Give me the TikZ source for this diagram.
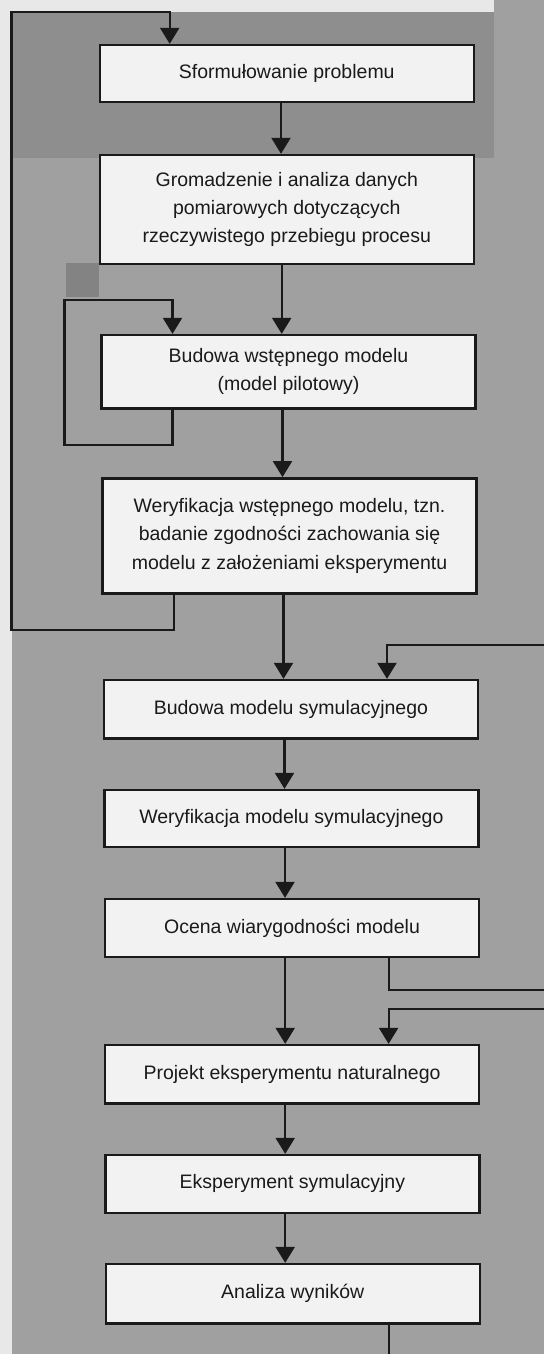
\documentclass[tikz,border=0pt]{standalone}
\usepackage{fontspec}
\setmainfont{Liberation Sans}
\usetikzlibrary{arrows.meta}
\definecolor{paper}{HTML}{E8E8E8}
\definecolor{panel}{HTML}{A0A0A0}
\definecolor{paneltop}{HTML}{8E8E8E}
\definecolor{patch}{HTML}{838383}
\definecolor{boxfill}{HTML}{F2F2F2}
\definecolor{ink}{HTML}{1A1A1A}

\begin{document}
\begin{tikzpicture}[x=1pt,y=-1pt,
  stepbox/.style={draw=ink, line width=2.4pt, fill=boxfill, text=ink,
    align=center, inner sep=0pt, minimum width=374pt,
    font=\fontsize{19.5}{28.3}\selectfont},
  plainline/.style={draw=ink, line width=2.2pt},
  arrowline/.style={plainline, -{Triangle[width=19pt,length=16pt]}}]

% page and shaded panels
\useasboundingbox (0,0) rectangle (544,1354);
\fill[paper] (0,0) rectangle (544,1354);
\fill[panel] (11.5,158) rectangle (544,1354);
\fill[panel] (494,0) rectangle (544,158);
\fill[paneltop] (11.5,12) rectangle (494,158);
\fill[patch] (66,263) rectangle (99,297);

% process steps
\node[stepbox, minimum height=56.7pt] (b1) at (286.8,73.4) {Sformułowanie problemu};
\node[stepbox, minimum height=109pt] (b2) at (286.8,209.5)
  {Gromadzenie i analiza danych\\pomiarowych dotyczących\\rzeczywistego przebiegu procesu};
\node[stepbox, minimum height=73.3pt] (b3) at (288.5,371.7)
  {Budowa wstępnego modelu\\(model pilotowy)};
\node[stepbox, minimum height=115pt] (b4) at (289.5,535.8)
  {Weryfikacja wstępnego modelu, tzn.\\badanie zgodności zachowania się\\modelu z założeniami eksperymentu};
\node[stepbox, minimum height=58.3pt] (b5) at (290.9,709.2) {Budowa modelu symulacyjnego};
\node[stepbox, minimum height=56.7pt] (b6) at (291.4,818.4) {Weryfikacja modelu symulacyjnego};
\node[stepbox, minimum height=57.7pt] (b7) at (292,927.9) {Ocena wiarygodności modelu};
\node[stepbox, minimum height=58.3pt] (b8) at (292,1074.2) {Projekt eksperymentu naturalnego};
\node[stepbox, minimum height=57.7pt] (b9) at (292.4,1183.9) {Eksperyment symulacyjny};
\node[stepbox, minimum height=59.3pt] (b10) at (292.7,1293.7) {Analiza wyników};

% main sequence
\draw[arrowline] (b1.south -| 281,0) -- (b2.north -| 281,0);
\draw[arrowline] (b2.south -| 281.7,0) -- (b3.north -| 281.7,0);
\draw[arrowline] (b3.south -| 282.5,0) -- (b4.north -| 282.5,0);
\draw[arrowline] (b4.south -| 283.5,0) -- (b5.north -| 283.5,0);
\draw[arrowline] (b5.south -| 284.5,0) -- (b6.north -| 284.5,0);
\draw[arrowline] (b6.south -| 285,0) -- (b7.north -| 285,0);
\draw[arrowline] (b7.south -| 285.2,0) -- (b8.north -| 285.2,0);
\draw[arrowline] (b8.south -| 285.2,0) -- (b9.north -| 285.2,0);
\draw[arrowline] (b9.south -| 285.2,0) -- (b10.north -| 285.2,0);

% loop around the pilot model
\coordinate (i1) at (64.5,445);
\coordinate (i2) at (64.5,300);
\draw[arrowline] (b3.south -| 172.5,0) |- (i1) -- (i2) -| (b3.north -| 172.5,0);

% outer loop back to the problem statement
\coordinate (o1) at (11.5,630);
\coordinate (o2) at (11.5,12);
\draw[arrowline] (b4.south -| 174.2,0) |- (o1) -- (o2) -| (b1.north -| 169.7,0);

% returns entering from the right margin
\coordinate (e1) at (544,645);
\coordinate (e2) at (544,990);
\coordinate (e3) at (544,1009);
\coordinate (e4) at (389.3,1354);
\draw[arrowline] (e1) -| (b5.north -| 387,0);
\draw[plainline] (b7.south -| 388.6,0) |- (e2);
\draw[arrowline] (e3) -| (b8.north -| 388.6,0);
\draw[plainline] (b10.south -| 389.3,0) -- (e4);
\end{tikzpicture}
\end{document}
